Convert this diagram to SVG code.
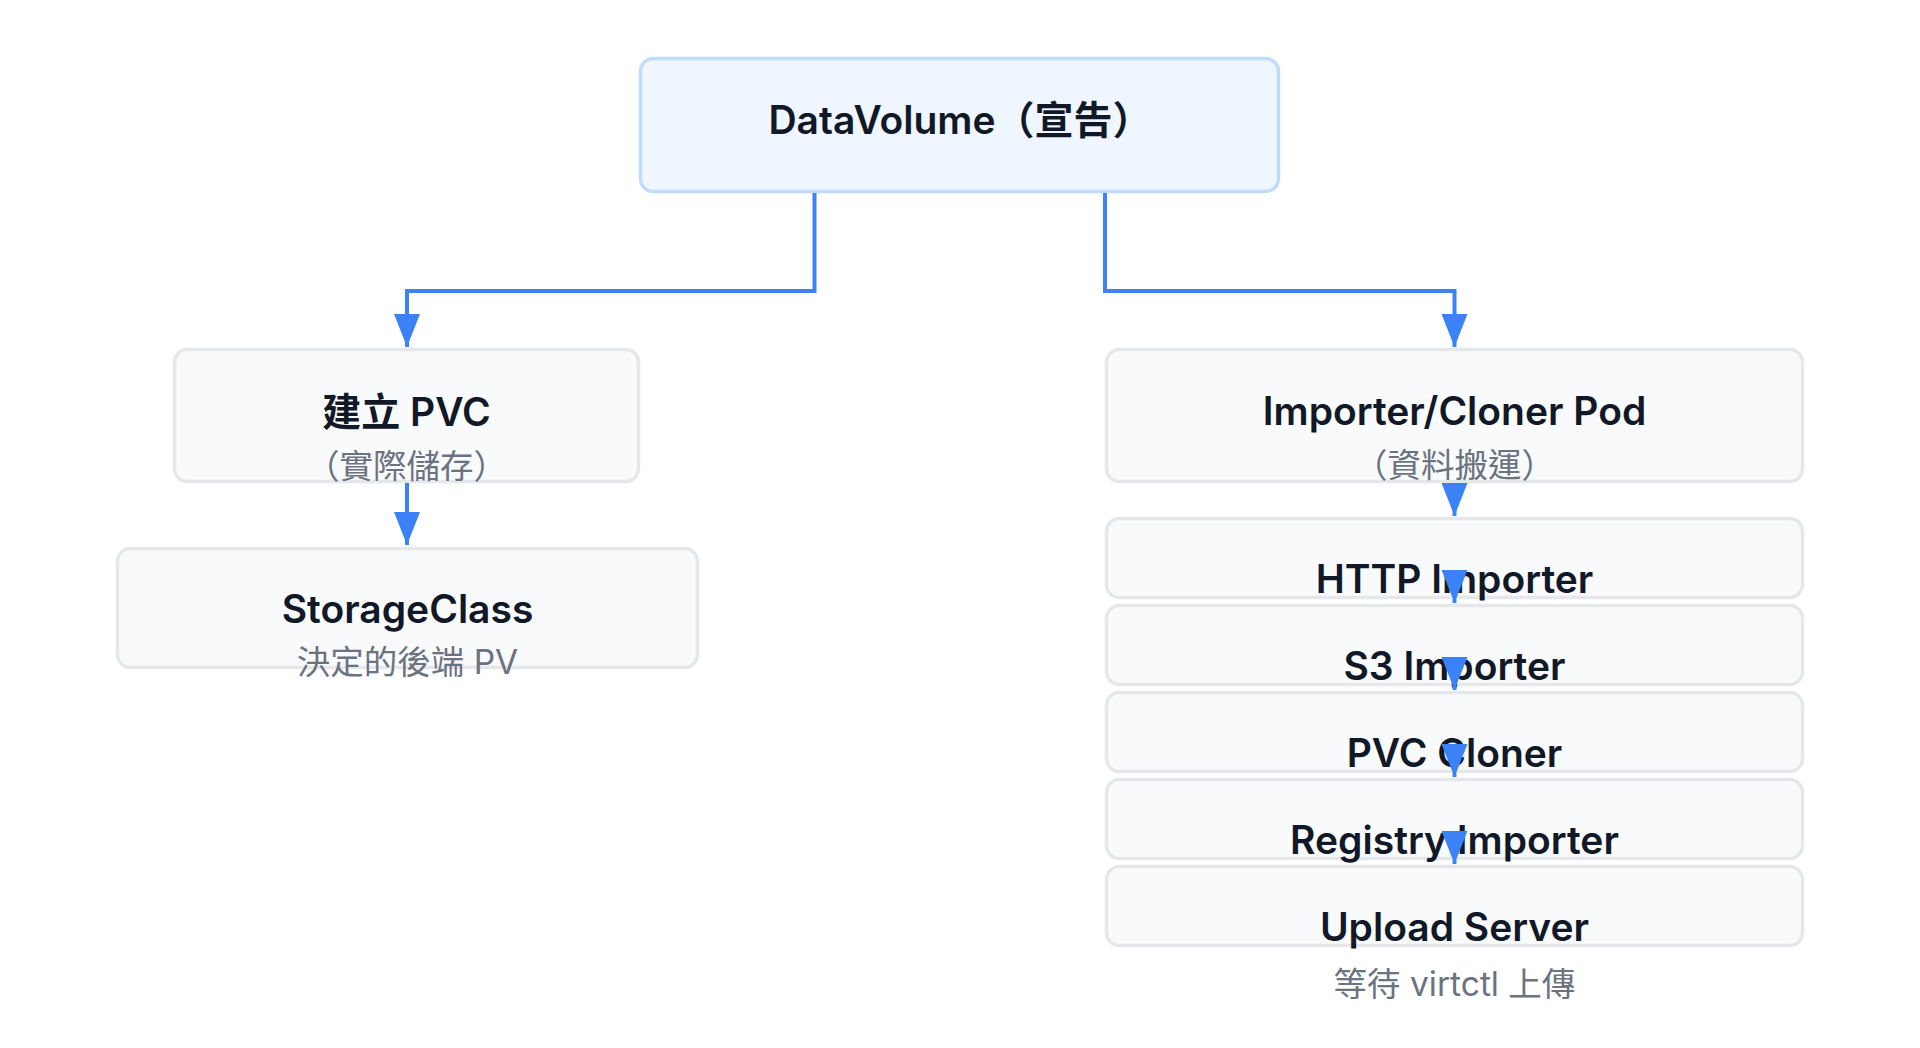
<svg xmlns="http://www.w3.org/2000/svg" width="1920" height="1048" viewBox="0 0 1920 1048">
<defs>
<style>
.box{fill:#f9fafb;stroke:#e5e7eb;stroke-width:3.5}
.main{fill:#eff6ff;stroke:#bfdbfe;stroke-width:3.5}
.t{font-family:Inter,"Noto Sans CJK TC",sans-serif;font-size:39px;font-weight:600;fill:#111827;text-anchor:middle}
.s{font-family:Inter,"Noto Sans CJK TC",sans-serif;font-size:33.5px;font-weight:400;fill:#6b7280;text-anchor:middle}
.c{fill:none;stroke:#3b82f6;stroke-width:4;marker-end:url(#ah)}
</style>
<marker id="ah" markerUnits="userSpaceOnUse" markerWidth="34" markerHeight="26" refX="33" refY="13" orient="auto">
<path d="M0,0 L33,13 L0,26 Z" fill="#3b82f6"/>
</marker>
</defs>
<rect width="1920" height="1048" fill="#ffffff"/>
<g id="node-datavolume">
<rect class="main" x="640.5" y="58.5" width="638" height="133" rx="13"/>
<text class="t" x="960" y="134">DataVolume（宣告）</text>
</g>
<g id="node-pvc">
<rect class="box" x="174.5" y="349.5" width="464" height="132" rx="13"/>
<text class="t" x="406.5" y="426">建立 PVC</text>
<text class="s" x="406.5" y="478">（實際儲存）</text>
</g>
<g id="node-storageclass">
<rect class="box" x="117.5" y="548.5" width="580" height="119" rx="13"/>
<text class="t" x="407.5" y="623">StorageClass</text>
<text class="s" x="407.5" y="674">決定的後端 PV</text>
</g>
<g id="node-pod">
<rect class="box" x="1106.5" y="349.5" width="696" height="132" rx="13"/>
<text class="t" x="1454.5" y="425">Importer/Cloner Pod</text>
<text class="s" x="1454.5" y="477">（資料搬運）</text>
</g>
<g id="node-http">
<rect class="box" x="1106.5" y="518.5" width="696" height="79" rx="13"/>
<text class="t" x="1454.5" y="593">HTTP Importer</text>
</g>
<g id="node-s3">
<rect class="box" x="1106.5" y="605.5" width="696" height="79" rx="13"/>
<text class="t" x="1454.5" y="680">S3 Importer</text>
</g>
<g id="node-pvccloner">
<rect class="box" x="1106.5" y="692.5" width="696" height="79" rx="13"/>
<text class="t" x="1454.5" y="767">PVC Cloner</text>
</g>
<g id="node-registry">
<rect class="box" x="1106.5" y="779.5" width="696" height="79" rx="13"/>
<text class="t" x="1454.5" y="854">Registry Importer</text>
</g>
<g id="node-upload">
<rect class="box" x="1106.5" y="866.5" width="696" height="79" rx="13"/>
<text class="t" x="1454.5" y="941">Upload Server</text>
<text class="s" x="1454.5" y="996">等待 virtctl 上傳</text>
</g>
<g id="connectors">
<path class="c" d="M814.5 193 V291 H407 V347"/>
<path class="c" d="M1105 193 V291 H1454.5 V347"/>
<path class="c" d="M407 483 V545"/>
<path class="c" d="M1454.5 483 V516"/>
<path class="c" d="M1454.5 599 V603"/>
<path class="c" d="M1454.5 686 V690"/>
<path class="c" d="M1454.5 773 V777"/>
<path class="c" d="M1454.5 860 V864"/>
</g>
</svg>
